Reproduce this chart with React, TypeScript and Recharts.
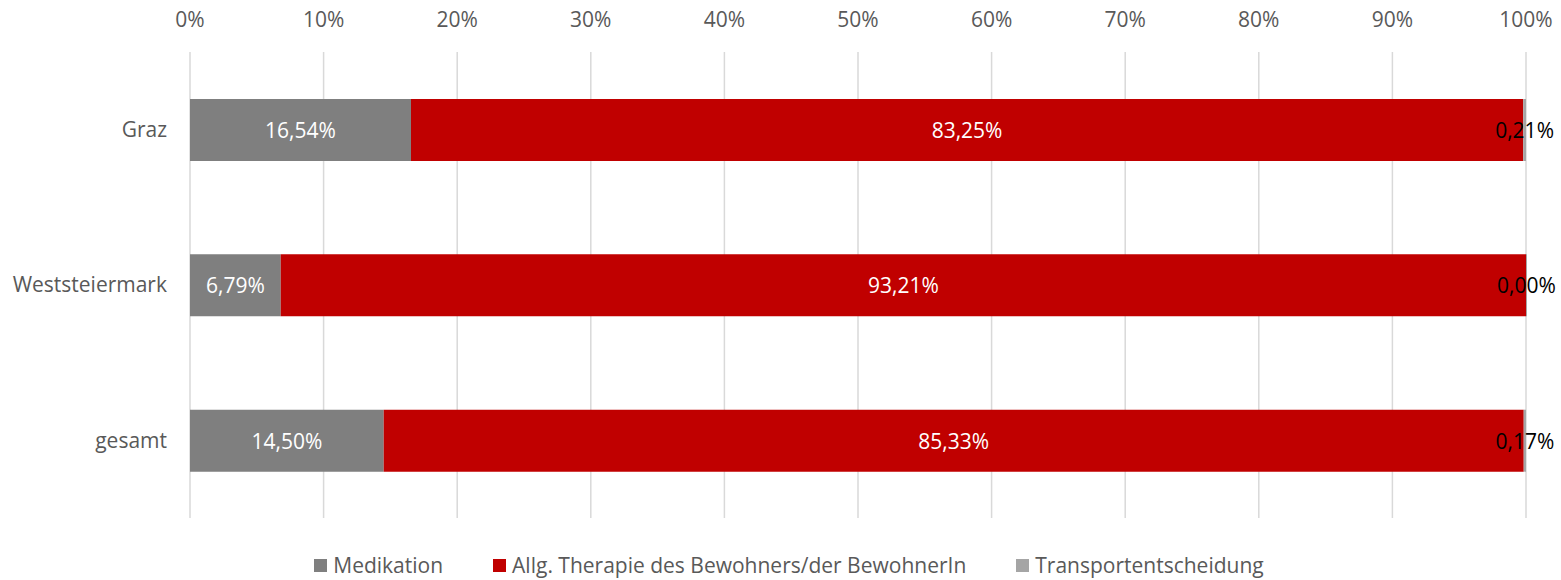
import React from 'react';
import { Bar, BarChart, CartesianGrid, LabelList, Legend, XAxis, YAxis } from 'recharts';

const regions = ['Graz', 'Weststeiermark', 'gesamt'];
const medikation = [16.54, 6.79, 14.5];
const therapie = [83.25, 93.21, 85.33];
const transport = [0.21, 0.0, 0.17];
const percentTicks = [0, 10, 20, 30, 40, 50, 60, 70, 80, 90, 100];

const seriesInfo = [
  { key: 'medikation', name: 'Medikation', color: '#7f7f7f', labelColor: '#ffffff' },
  { key: 'therapie', name: 'Allg. Therapie des Bewohners/der BewohnerIn', color: '#c00000', labelColor: '#ffffff' },
  { key: 'transport', name: 'Transportentscheidung', color: '#a5a5a5', labelColor: '#000000' },
];

const data = regions.map((r, i) => ({
  region: r,
  medikation: medikation[i],
  therapie: therapie[i],
  transport: transport[i],
}));

const FONT = '"Open Sans", sans-serif';

const fmt = (v: number) => v.toFixed(2).replace('.', ',') + '%';

const makeLabel = (color: string) => (props: any) => {
  const { x, y, width, height, value } = props;
  return (
    <text
      x={x + width / 2}
      y={y + height / 2}
      fill={color}
      fontSize={21}
      fontFamily={FONT}
      textAnchor="middle"
      dominantBaseline="central"
    >
      {fmt(Number(value))}
    </text>
  );
};

const CustomLegend = () => (
  <div
    style={{
      display: 'flex',
      justifyContent: 'center',
      paddingLeft: 52,
      fontFamily: FONT,
      fontSize: 21,
      color: '#595959',
    }}
  >
    {seriesInfo.map((s) => (
      <div key={s.key} style={{ display: 'flex', alignItems: 'center', margin: '0 25px' }}>
        <span style={{ width: 13, height: 13, background: s.color, display: 'inline-block', marginRight: 6 }} />
        <span>{s.name}</span>
      </div>
    ))}
  </div>
);

const App = () => {
  return (
    <div style={{ position: 'absolute', left: 0, top: 0, background: '#fff' }}>
      <BarChart
        width={1561}
        height={580}
        data={data}
        layout="vertical"
        margin={{ top: 0, right: 35, left: 0, bottom: 20 }}
      >
        <CartesianGrid horizontal={false} stroke="#d9d9d9" strokeWidth={1.5} />
        <XAxis
          type="number"
          orientation="top"
          domain={[0, 100]}
          ticks={percentTicks}
          tickFormatter={(v: number) => `${v}%`}
          axisLine={false}
          tickLine={false}
          height={52}
          tickMargin={19}
          tick={{ fill: '#595959', fontSize: 21, fontFamily: FONT }}
        />
        <YAxis
          type="category"
          dataKey="region"
          width={190}
          axisLine={false}
          tickLine={false}
          tickMargin={17}
          tick={{ fill: '#595959', fontSize: 21, fontFamily: FONT }}
        />
        <Legend verticalAlign="bottom" height={42} content={<CustomLegend />} wrapperStyle={{ top: 551, bottom: 'auto' }} />
        {seriesInfo.map((s) => (
          <Bar
            key={s.key}
            dataKey={s.key}
            name={s.name}
            stackId="a"
            fill={s.color}
            barSize={62}
            minPointSize={s.key === 'transport' ? 1 : 0}
            isAnimationActive={false}
          >
            <LabelList dataKey={s.key} content={makeLabel(s.labelColor)} />
          </Bar>
        ))}
      </BarChart>
    </div>
  );
};

export default App;
